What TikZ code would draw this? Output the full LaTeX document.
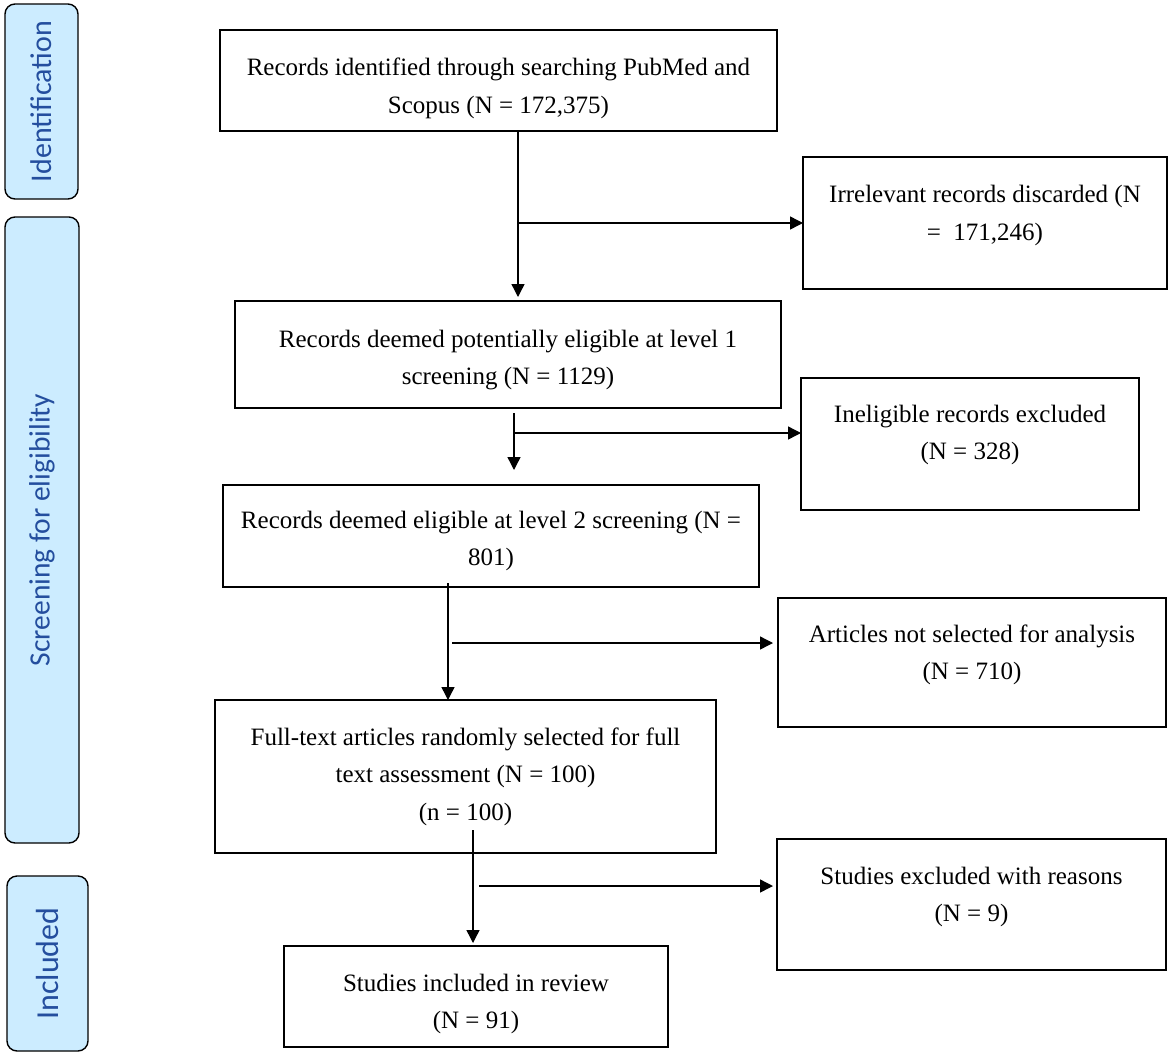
\documentclass[tikz,border=0pt]{standalone}
\usepackage{fontspec}
\setmainfont{Liberation Serif}
\newfontfamily\carl{Carlito}
\usetikzlibrary{arrows.meta}
\definecolor{sidefill}{RGB}{204,236,255}
\definecolor{sidetext}{RGB}{36,78,158}
% #1 width, #2 height, #3 top space, #4 baselineskip, #5 text
\newcommand{\bxt}[5]{\parbox[c][#2pt][t]{#1pt}{\centering\fontsize{25}{#4}\selectfont\vspace*{#3pt}\strut #5}}
\begin{document}
\begin{tikzpicture}[x=1pt,y=-1pt,
  box/.style={draw=black, line width=1.5pt, inner sep=0pt, outer sep=0pt, fill=white},
  side/.style={draw=black, line width=1.4pt, fill=sidefill, rounded corners=10pt, rotate=90, inner sep=0pt, text=sidetext},
  arr/.style={line width=1.4pt, -{Triangle[length=13pt,width=13pt]}}]
\useasboundingbox (0,0) rectangle (1170,1055);

% side labels
\node[side, minimum width=195pt, minimum height=73pt, font=\carl\fontsize{30}{36}\selectfont] (sid) at (41.5,101.5) {Identification};
\node[side, minimum width=626pt, minimum height=74pt, font=\carl\fontsize{29.5}{36}\selectfont] (sscr) at (42,530) {Screening for eligibility};
\node[side, minimum width=175pt, minimum height=81pt, font=\carl\fontsize{32}{38}\selectfont] (sinc) at (47.5,963.5) {Included};

% main boxes
\node[box] (b1) at (498.5,80.5) {\bxt{557}{101}{18.4}{38}{Records identified through searching PubMed and\\Scopus (N = 172,375)}};
\node[box] (r1) at (985,223) {\bxt{364}{132}{19.1}{38}{Irrelevant records discarded (N\\=~ 171,246)}};
\node[box] (b2) at (508,354.5) {\bxt{546}{107}{20.1}{37}{Records deemed potentially eligible at level 1\\screening (N = 1129)}};
\node[box] (r2) at (970,444) {\bxt{338}{132}{18.1}{37}{Ineligible records excluded\\(N = 328)}};
\node[box] (b3) at (491,536) {\bxt{536}{102}{17.1}{37}{Records deemed eligible at level 2 screening (N =\\801)}};
\node[box] (r3) at (972,662.5) {\bxt{388}{129}{18.1}{37}{Articles not selected for analysis\\(N = 710)}};
\node[box] (b4) at (465.5,776.5) {\bxt{501}{153}{19.1}{37.5}{Full-text articles randomly selected for full\\text assessment (N = 100)\\(n = 100)}};
\node[box] (r4) at (971.5,904.5) {\bxt{389}{131}{19.1}{37.5}{Studies excluded with reasons\\(N = 9)}};
\node[box] (b5) at (476,996.5) {\bxt{384}{101}{19.1}{37}{Studies included in review\\(N = 91)}};

% connector guide coordinates
\coordinate (v1) at (518,0);
\coordinate (v2) at (514,0);
\coordinate (v3) at (448,0);
\coordinate (v4) at (473,0);
\coordinate (h1) at (518,223);
\coordinate (h2) at (514,433);
\coordinate (h3) at (452,643);
\coordinate (h4) at (479,886);

% vertical flow
\draw[arr, shorten >=4pt] (b1.south -| v1) -- (b2.north -| v1);
\draw[arr, shorten <=5pt, shorten >=15pt] (b2.south -| v2) -- (b3.north -| v2);
\draw[arr, shorten <=-4pt] (b3.south -| v3) -- (b4.north -| v3);
\draw[arr, shorten <=-23pt, shorten >=3pt] (b4.south -| v4) -- (b5.north -| v4);

% exclusions
\draw[arr] (h1) -- (h1 -| r1.west);
\draw[arr] (h2) -- (h2 -| r2.west);
\draw[arr, shorten >=5pt] (h3) -- (h3 -| r3.west);
\draw[arr, shorten >=4pt] (h4) -- (h4 -| r4.west);
\end{tikzpicture}
\end{document}
